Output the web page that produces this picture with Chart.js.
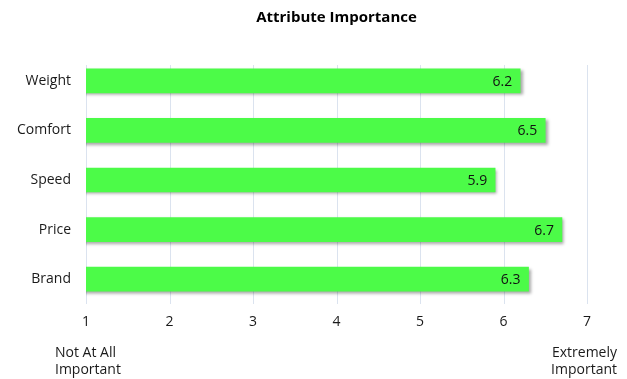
<!DOCTYPE html>
<html><head><meta charset="utf-8">
<script src="https://cdn.jsdelivr.net/npm/chart.js@4"></script>
<style>html,body{margin:0;padding:0;background:#fff}#w{width:627px;height:379px}</style>
</head><body><div id="w"><canvas id="c"></canvas></div>
<script>
const categories = ["Weight", "Comfort", "Speed", "Price", "Brand"];
const values = [6.2, 6.5, 5.9, 6.7, 6.3];
const xTicks = [1, 2, 3, 4, 5, 6, 7];
const title = "Attribute Importance";
const lowLabel = ["Not At All", "Important"];
const highLabel = ["Extremely", "Important"];

const FONT = "'Open Sans', sans-serif";

const gridPlugin = {
  id: 'grid',
  beforeDatasetsDraw(chart) {
    const {ctx, scales: {x}} = chart;
    ctx.save();
    ctx.strokeStyle = '#dbe3ef';
    ctx.lineWidth = 1;
    xTicks.forEach(v => {
      const px = Math.round(x.getPixelForValue(v)) + 0.5;
      ctx.beginPath(); ctx.moveTo(px, 65); ctx.lineTo(px, 304); ctx.stroke();
    });
    ctx.restore();
    ctx.save();
    ctx.shadowColor = 'rgba(0,0,0,0.35)';
    ctx.shadowOffsetX = 2; ctx.shadowOffsetY = 2; ctx.shadowBlur = 3;
  },
  afterDatasetsDraw(chart) {
    chart.ctx.restore();
    const {ctx} = chart;
    const meta = chart.getDatasetMeta(0);
    ctx.save();
    ctx.font = '14px ' + FONT;
    ctx.fillStyle = '#111';
    ctx.textAlign = 'right'; ctx.textBaseline = 'middle';
    meta.data.forEach((bar, i) => {
      ctx.fillText(values[i].toFixed(1), bar.x - 8, bar.y + 1);
    });
    ctx.restore();
  },
  afterDraw(chart) {
    const {ctx, chartArea} = chart;
    ctx.save();
    ctx.font = 'bold 15px ' + FONT;
    ctx.fillStyle = '#000';
    ctx.textAlign = 'center'; ctx.textBaseline = 'middle';
    ctx.fillText(title, (chartArea.left + chartArea.right) / 2, 18);
    ctx.font = '14px ' + FONT;
    ctx.fillStyle = '#1a1a1a';
    ctx.textAlign = 'left';
    ctx.fillText(lowLabel[0], 55, 353);
    ctx.fillText(lowLabel[1], 55, 370);
    ctx.textAlign = 'right';
    ctx.fillText(highLabel[0], 617, 353);
    ctx.fillText(highLabel[1], 617, 370);
    ctx.restore();
  }
};

new Chart(document.getElementById('c'), {
  type: 'bar',
  data: {
    labels: categories,
    datasets: [{ data: values, backgroundColor: '#4cfb48', borderWidth: 0, barThickness: 24 }]
  },
  options: {
    indexAxis: 'y',
    responsive: true,
    maintainAspectRatio: false,
    animation: false,
    layout: { padding: { left: 0, right: 40, top: 56, bottom: 0 } },
    plugins: {
      legend: { display: false },
      tooltip: { enabled: false },
      title: { display: false }
    },
    scales: {
      x: {
        min: 1, max: 7,
        afterFit(s) { s.height = 75; },
        afterBuildTicks(s) { s.ticks = xTicks.map(v => ({ value: v })); },
        grid: { display: false, drawTicks: false },
        border: { display: false },
        ticks: { color: '#1a1a1a', font: { family: FONT, size: 14 }, padding: 10 }
      },
      y: {
        afterFit(s) { s.width = 86; },
        grid: { display: false, drawTicks: false },
        border: { display: false },
        ticks: { color: '#1a1a1a', font: { family: FONT, size: 14 }, padding: 15 }
      }
    }
  },
  plugins: [gridPlugin]
});
</script></body></html>
